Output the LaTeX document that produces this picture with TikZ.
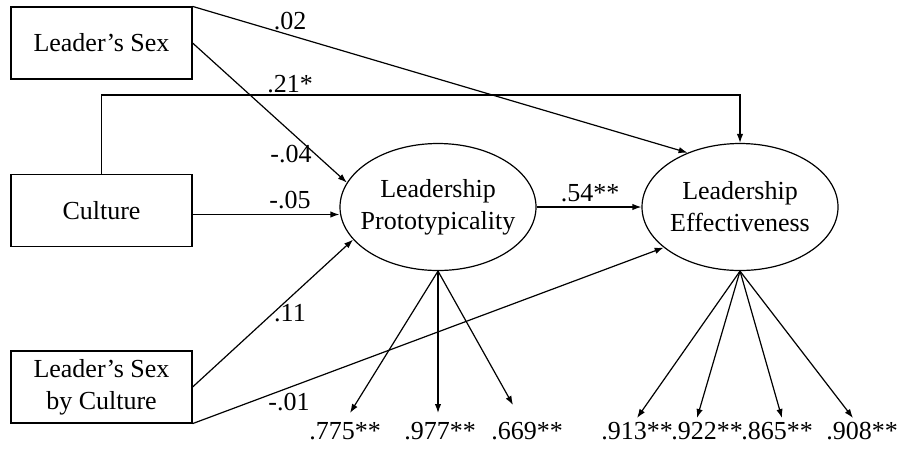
\documentclass[tikz,border=0pt]{standalone}
\usepackage{fontspec}
\setmainfont{Liberation Serif}
\usetikzlibrary{positioning,calc}
\usetikzlibrary{arrows.meta,shapes.geometric}
\tikzset{
	obs/.style={draw=black,line width=0.6pt,minimum width=90.5pt,minimum height=36pt,inner sep=0pt,align=center},
	lat/.style={ellipse,draw=black,line width=0.6pt,minimum width=98pt,minimum height=63.5pt,inner xsep=-4.5pt,inner ysep=0pt,align=center},
	reg/.style={draw=black,line width=0.6pt,-{Latex[length=4.5pt,width=3.2pt]}},
	coef/.style={inner sep=0pt},
}

\begin{document}
\begin{tikzpicture}[x=0.5pt,y=-0.5pt,font=\fontsize{13}{16}\selectfont]
	\useasboundingbox (0,0) rectangle (903,452);
	\node[obs] (lsex) at (101.5,43) {Leader’s Sex};
	\node[obs] (cult) at (101.5,210.5) {Culture};
	\node[obs] (lsbc) at (101.5,387) {Leader’s Sex\\by Culture};
	\node[lat] (proto) at (438,207) {Leadership\\Prototypicality};
	\node[lat] (eff) at (740,207) {Leadership\\Effectiveness};
	\coordinate (cbend) at (740,95);
	\coordinate (p1) at (350,413);
	\coordinate (p2) at (438,413);
	\coordinate (p3) at (513,405);
	\coordinate (e1) at (637,418);
	\coordinate (e2) at (697,418);
	\coordinate (e3) at (782,418);
	\coordinate (e4) at (853,418);
	\draw[reg] (lsex.north east) -- (eff.134);
	\draw[reg] (lsex.east) -- (proto.165);
	\draw[reg] (cult.north) |- (cbend) -- (eff.north);
	\draw[reg] ([yshift=-2pt]cult.east) -- ([yshift=-2pt]cult.east -| proto.west);
	\draw[reg] (lsbc.east) -- (proto.201);
	\draw[reg] (lsbc.south east) -- (eff.208);
	\draw[reg] (proto) -- (eff);
	\foreach \p in {p1,p2,p3} \draw[reg] (proto.south) -- (\p);
	\foreach \e in {e1,e2,e3,e4} \draw[reg] (eff.south) -- (\e);
	\node[coef] (c1) at (290,21) {.02};
	\node[coef] (c2) at (290,84) {.21*};
	\node[coef] (c3) at (291,154) {-.04};
	\node[coef] (c4) at (290,200) {-.05};
	\node[coef] (c5) at (290,313) {.11};
	\node[coef] (c6) at (289,402) {-.01};
	\node[coef] (c7) at (590,193) {.54**};
	\node[coef] (l1) at (345,431) {.775**};
	\node[coef] (l2) at (440,431) {.977**};
	\node[coef] (l3) at (527,431) {.669**};
	\node[coef] (l4) at (637,431) {.913**};
	\node[coef] (l5) at (707,431) {.922**};
	\node[coef] (l6) at (777,431) {.865**};
	\node[coef] (l7) at (862,431) {.908**};
\end{tikzpicture}
\end{document}
